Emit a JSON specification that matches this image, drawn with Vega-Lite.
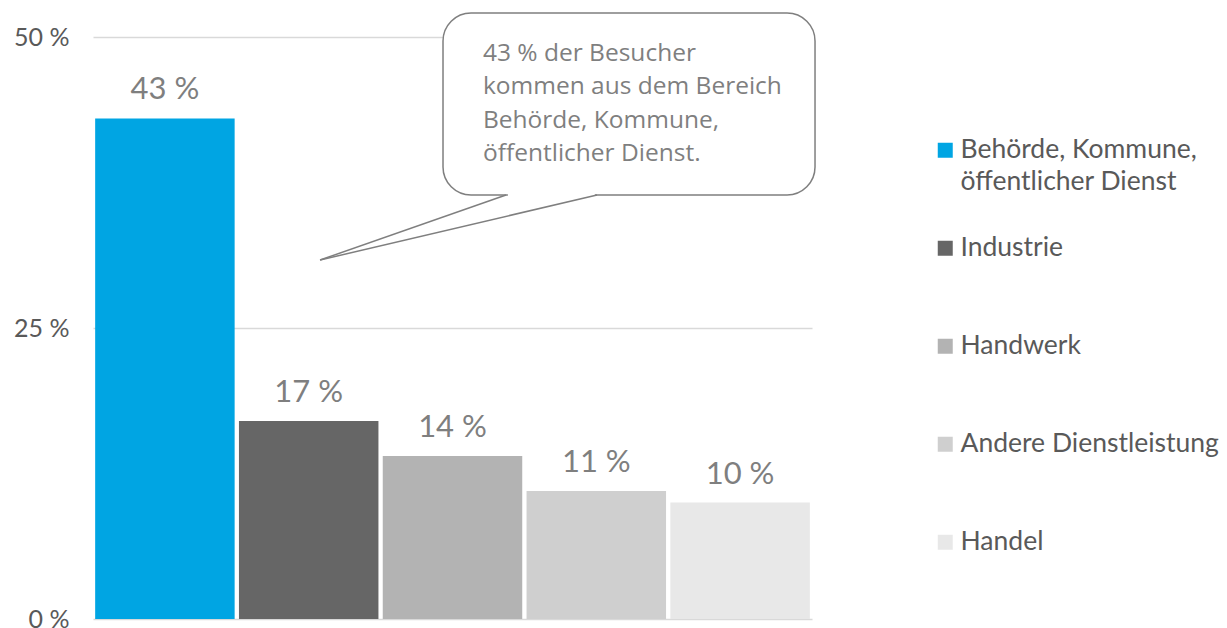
{
  "$schema": "https://vega.github.io/schema/vega-lite/v6.json",
  "width": 719,
  "height": 582,
  "autosize": "none",
  "padding": {"left": 93, "top": 37, "right": 415, "bottom": 9},
  "config": {"view": {"stroke": null}, "font": "Lato"},
  "data": {
    "values": [
      {"Bereich": "Behörde, Kommune, öffentlicher Dienst", "Anteil": 43, "Label": "43 %"},
      {"Bereich": "Industrie", "Anteil": 17, "Label": "17 %"},
      {"Bereich": "Handwerk", "Anteil": 14, "Label": "14 %"},
      {"Bereich": "Andere Dienstleistung", "Anteil": 11, "Label": "11 %"},
      {"Bereich": "Handel", "Anteil": 10, "Label": "10 %"}
    ]
  },
  "resolve": {"scale": {"x": "independent"}},
  "layer": [
    {
      "layer": [
        {
          "mark": {"type": "bar"},
          "encoding": {
            "x": {"field": "Bereich", "type": "nominal", "sort": null, "axis": null,
                  "scale": {"paddingInner": 0.03, "paddingOuter": 0.015}},
            "y": {"field": "Anteil", "type": "quantitative",
                  "scale": {"domain": [0, 50]},
                  "axis": {"values": [0, 25, 50], "title": null, "labelExpr": "datum.value + ' %'",
                           "domain": false, "ticks": false, "grid": true, "gridColor": "#d9d9d9",
                           "gridWidth": 1.5, "labelFontSize": 25, "labelColor": "#595959",
                           "labelPadding": 24, "labelFont": "Lato"}},
            "color": {"field": "Bereich", "type": "nominal", "sort": null,
                      "scale": {"range": ["#00A5E3", "#666666", "#B3B3B3", "#CFCFCF", "#E8E8E8"]},
                      "legend": {"title": null, "orient": "none", "legendX": 839, "legendY": 100,
                                 "symbolType": "square", "symbolSize": 225, "symbolStrokeWidth": 0,
                                 "labelFontSize": 26.5, "labelColor": "#595959", "labelFont": "Lato",
                                 "labelOffset": 2, "labelLimit": 400, "rowPadding": 39, "gridAlign": "all",
                                 "labelExpr": "datum.label == 'Behörde, Kommune, öffentlicher Dienst' ? ['Behörde, Kommune,', 'öffentlicher Dienst'] : datum.label",
                                 "encode": {"labels": {"update": {"lineHeight": {"value": 32}}}}}}
          }
        },
        {
          "mark": {"type": "text", "dy": -19, "fontSize": 31, "color": "#7f7f7f", "baseline": "alphabetic", "font": "Lato"},
          "encoding": {
            "x": {"field": "Bereich", "type": "nominal", "sort": null},
            "y": {"field": "Anteil", "type": "quantitative"},
            "text": {"field": "Label", "type": "nominal"}
          }
        }
      ]
    },
    {
      "data": {"values": [{"note": ["43 % der Besucher", "kommen aus dem Bereich", "Behörde, Kommune,", "öffentlicher Dienst."]}]},
      "layer": [
        {
          "mark": {"type": "rect", "fill": "white", "stroke": "#7f7f7f", "strokeWidth": 1.5, "cornerRadius": 28},
          "encoding": {
            "x": {"datum": 2.434, "type": "quantitative", "scale": {"domain": [0, 5], "nice": false, "zero": false}, "axis": null},
            "x2": {"datum": 5.021},
            "y": {"datum": 52.06, "type": "quantitative"},
            "y2": {"datum": 36.43}
          }
        },
        {
          "mark": {"type": "rule", "stroke": "white", "strokeWidth": 4},
          "encoding": {
            "x": {"datum": 2.885, "type": "quantitative"},
            "x2": {"datum": 3.49},
            "y": {"datum": 36.43, "type": "quantitative"},
            "y2": {"datum": 36.43}
          }
        },
        {
          "mark": {"type": "rule", "stroke": "#7f7f7f", "strokeWidth": 1.5},
          "encoding": {
            "x": {"datum": 2.872, "type": "quantitative"},
            "x2": {"datum": 1.579},
            "y": {"datum": 36.43, "type": "quantitative"},
            "y2": {"datum": 30.84}
          }
        },
        {
          "mark": {"type": "rule", "stroke": "#7f7f7f", "strokeWidth": 1.5},
          "encoding": {
            "x": {"datum": 3.505, "type": "quantitative"},
            "x2": {"datum": 1.579},
            "y": {"datum": 36.43, "type": "quantitative"},
            "y2": {"datum": 30.84}
          }
        },
        {
          "mark": {"type": "text", "align": "left", "baseline": "alphabetic", "font": "Open Sans",
                   "fontSize": 24.5, "lineHeight": 33.5, "color": "#7f7f7f"},
          "encoding": {
            "x": {"datum": 2.712, "type": "quantitative"},
            "y": {"datum": 47.94, "type": "quantitative"},
            "text": {"field": "note"}
          }
        }
      ]
    }
  ]
}
